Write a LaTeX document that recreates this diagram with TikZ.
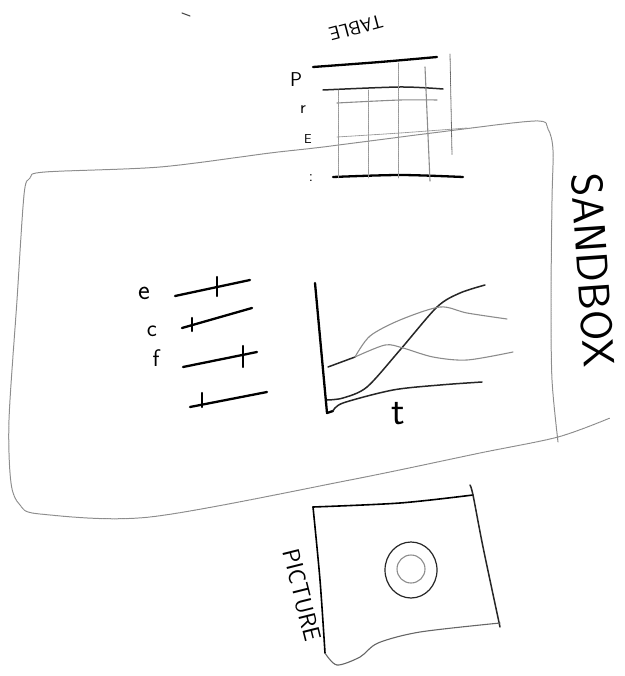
\documentclass[tikz,border=0pt]{standalone}
\begin{document}
\begin{tikzpicture}[x=1pt,y=-1pt,
  ink/.style={line width=2.3pt,black,line cap=round,line join=round},
  midink/.style={line width=1.5pt,black!85,line cap=round,line join=round},
  grayink/.style={line width=1.1pt,black!45,line cap=round,line join=round},
  faint/.style={line width=0.8pt,black!40,dash pattern=on 1.4pt off 0.8pt,line cap=round},
  sandline/.style={line width=1pt,black!45,dash pattern=on 1.3pt off 0.6pt,line cap=round},
  hand/.style={font=\sffamily,inner sep=0pt,text=black}
]
\useasboundingbox (0,0) rectangle (624,676);

% ---------- sandbox outline ----------
\draw[sandline] plot[smooth,tension=0.5] coordinates {
  (558,442) (552,380) (551,300) (552,200) (553,150) (548,129) (535,121)
  (440,132) (323,147) (270,153) (160,167) (45,172) (30,178) (24,195)
  (17,300) (9,420) (11,483) (20,505) (40,514) (150,517) (350,480)
  (480,453) (558,437) (610,418)};

% ---------- table ----------
\draw[ink] plot[smooth] coordinates {(313,67) (380,62) (437,57)};
\draw[midink] plot[smooth] coordinates {(323,90) (400,87) (443,89)};
\draw[grayink] plot[smooth] coordinates {(337,103) (400,100) (437,100)};
\draw[faint] plot[smooth] coordinates {(337,137) (400,133) (467,128)};
\draw[ink] plot[smooth] coordinates {(333,177) (400,175) (463,177)};
\draw[faint] (338,90) -- (338,178);
\draw[faint] (368,90) -- (368,178);
\draw[faint] (398,63) -- (398,178);
\draw[grayink] (425,67) -- (430,181);
\draw[faint,black!60] (450,54) -- (452,155);
\node[hand,font=\sffamily\fontsize{19}{19}\selectfont,rotate=195] (tablelabel) at (356,28) {TABLE};
\node[hand,font=\sffamily\fontsize{20}{20}\selectfont] (rowp) at (296,80) {P};
\node[hand,font=\sffamily\fontsize{18}{18}\selectfont] (rowr) at (303,110) {r};
\node[hand,font=\sffamily\fontsize{13}{13}\selectfont] (rowe) at (308,139) {E};
\node[hand,font=\sffamily\fontsize{16}{16}\selectfont] (rowdots) at (311,178) {:};

% ---------- sliders ----------
\draw[ink] (175,296) -- (250,280);
\draw[ink] (217,277) -- (217,296);
\draw[ink] (182,328) -- (252,308);
\draw[ink] (192,318) -- (192,331);
\draw[ink] (183,367) -- (257,352);
\draw[ink] (243,346) -- (243,367);
\draw[ink] (190,407) -- (267,392);
\draw[ink] (202,393) -- (202,407);
\node[hand,font=\sffamily\fontsize{28}{28}\selectfont] (labe) at (144,293) {e};
\node[hand,font=\sffamily\fontsize{24}{24}\selectfont] (labc) at (152,331) {c};
\node[hand,font=\sffamily\fontsize{24}{24}\selectfont] (labf) at (156,358) {f};

% ---------- chart ----------
\draw[ink] (315,283) -- (327,413) -- (333,411);
\draw[midink] plot[smooth] coordinates {(333,411) (343,403) (393,390) (440,385) (482,382)};
\draw[midink] plot[smooth] coordinates {(327,400) (343,398) (367,387) (400,350) (437,307) (460,293) (485,285)};
\draw[midink] (328,367) -- (355,357);
\draw[grayink] plot[smooth] coordinates {(355,357) (385,345) (403,348) (433,357) (467,360) (513,352)};
\draw[grayink] plot[smooth] coordinates {(355,357) (370,336) (400,320) (440,307) (467,313) (507,319)};
\node[hand,font=\sffamily\fontsize{40}{40}\selectfont] (tlabel) at (398,414) {t};

% ---------- picture ----------
\draw[ink,line width=1.6pt] plot[smooth] coordinates {(325,653) (320,580) (313,507)};
\draw[ink,line width=1.6pt] plot[smooth] coordinates {(313,507) (400,503) (473,495)};
\draw[midink] plot[smooth] coordinates {(470,485) (473,495) (483,547) (500,627)};
\draw[grayink,black!60] plot[smooth] coordinates {(325,653) (337,665) (360,657) (378,643) (420,632) (500,623)};
\draw[midink,line width=1.2pt] (411,570) ellipse [x radius=26, y radius=28];
\draw[grayink] (411,569) circle [radius=14];
\node[hand,font=\sffamily\fontsize{24}{24}\selectfont,rotate=-76] (picturelabel) at (302,595) {PICTURE};

% ---------- sandbox label ----------
\node[hand,font=\sffamily\fontsize{44}{44}\selectfont,rotate=-86] (sandboxlabel) at (593,270) {SANDBOX};

% stray mark
\draw[grayink,black!70] (182,13) -- (190,16);
\end{tikzpicture}
\end{document}
